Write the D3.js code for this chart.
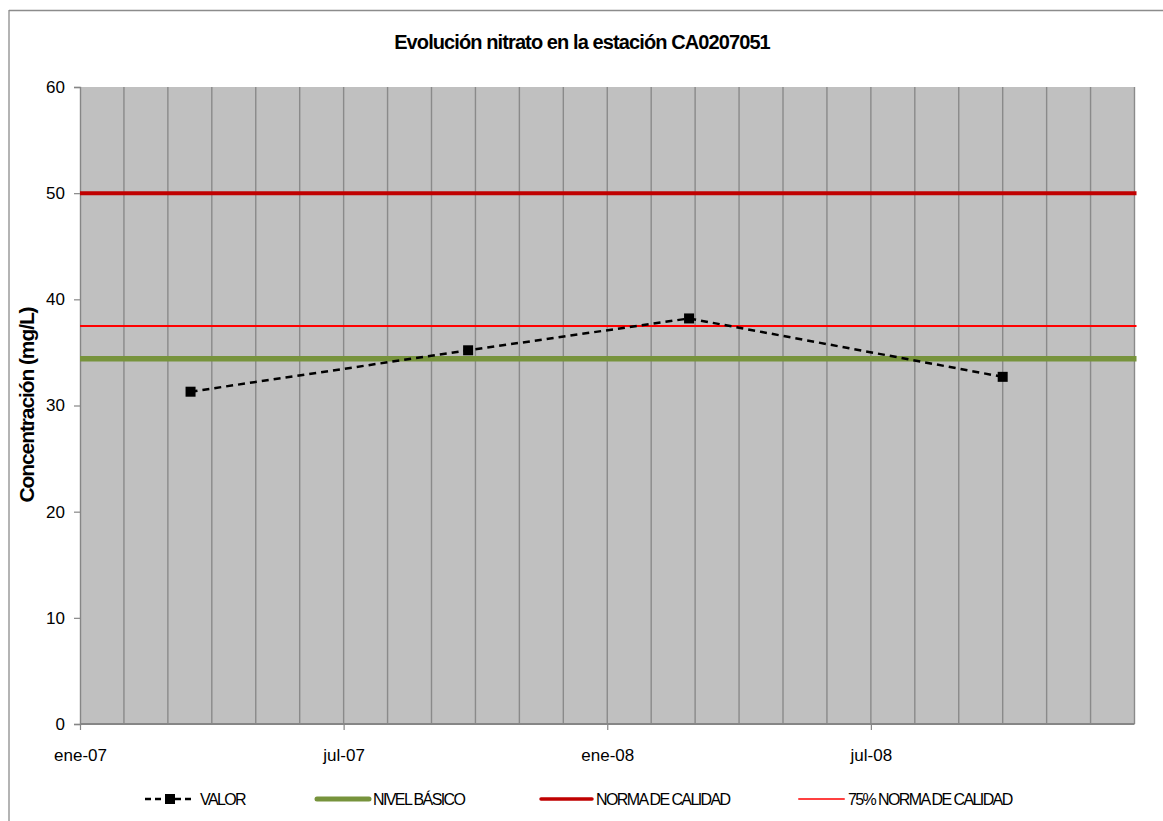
<!DOCTYPE html>
<html><head><meta charset="utf-8">
<script src="https://cdn.jsdelivr.net/npm/d3@7"></script>
<style>
body{margin:0;background:#fff;}
text{font-family:"Liberation Sans",Arial,sans-serif;}
</style></head>
<body><svg id="c" width="1163" height="821"></svg>
<script>
// Data
const sampleDates = ["2007-03-17", "2007-09-26", "2008-02-26", "2008-10-01"];
const valores = [31.3, 35.2, 38.2, 32.7];
const nivelBasico = 34.4;
const normaCalidad = 50;
const norma75 = 37.5;
const xTickLabels = ["ene-07", "jul-07", "ene-08", "jul-08"];
const xTickMonths = [0, 6, 12, 18];
const yTicks = [0, 10, 20, 30, 40, 50, 60];
const legendLabels = ["VALOR", "NIVEL BÁSICO", "NORMA DE CALIDAD", "75% NORMA DE CALIDAD"];

// month index (from Jan 2007) with fractional day position
function monthIndex(s){
  const d = new Date(s + "T00:00:00");
  const y = d.getFullYear(), m = d.getMonth(), day = d.getDate();
  const dim = new Date(y, m+1, 0).getDate();
  return (y-2007)*12 + m + (day-1)/dim;
}

const svg = d3.select("#c");
const L=80, R=1134.5, T=87, B=724;
const x = d3.scaleLinear().domain([0,24]).range([L,R]);
const y = d3.scaleLinear().domain([0,60]).range([B,T]);

// chart border (top & left)
svg.append("line").attr("x1",9).attr("x2",1163).attr("y1",10.5).attr("y2",10.5).attr("stroke","#8c8c8c").attr("stroke-width",1.3);
svg.append("line").attr("x1",9).attr("x2",9).attr("y1",10).attr("y2",821).attr("stroke","#8c8c8c").attr("stroke-width",1.3);

// plot background
svg.append("rect").attr("x",L).attr("y",T).attr("width",R-L).attr("height",B-T).attr("fill","#c0c0c0");

// vertical gridlines per month
svg.append("g").selectAll("line").data(d3.range(1,25)).join("line")
  .attr("x1",d=>x(d)).attr("x2",d=>x(d)).attr("y1",T).attr("y2",B)
  .attr("stroke","#8a8a8a").attr("stroke-width",1.4);

// y axis
const yAxis = d3.axisLeft(y).tickValues(yTicks).tickSize(6).tickPadding(9);
const gy = svg.append("g").attr("transform",`translate(${L},0)`).call(yAxis);
gy.select(".domain").attr("stroke","#868686").attr("stroke-width",1.4);
gy.selectAll(".tick line").attr("stroke","#868686").attr("stroke-width",1.2);
gy.selectAll(".tick text").attr("font-size",17).attr("fill","#000").attr("font-family","Liberation Sans, Arial, sans-serif");

// x axis
const xAxis = d3.axisBottom(x).tickValues(xTickMonths).tickFormat((d,i)=>xTickLabels[i]).tickSize(6).tickPadding(19);
const gx = svg.append("g").attr("transform",`translate(0,${B})`).call(xAxis);
gx.select(".domain").attr("stroke","#868686").attr("stroke-width",2.2).attr("d",`M${L},0H${R}`);
gx.selectAll(".tick line").attr("stroke","#868686").attr("stroke-width",1.2);
gx.selectAll(".tick text").attr("font-size",17).attr("fill","#000").attr("font-family","Liberation Sans, Arial, sans-serif");

// reference lines
const refs = [
  {v:nivelBasico, c:"#77933c", w:5.5},
  {v:normaCalidad, c:"#c00000", w:4},
  {v:norma75, c:"#ff0000", w:2}
];
svg.append("g").selectAll("line").data(refs).join("line")
  .attr("x1",L).attr("x2",R+2).attr("y1",d=>y(d.v)).attr("y2",d=>y(d.v))
  .attr("stroke",d=>d.c).attr("stroke-width",d=>d.w);

// series
const pts = sampleDates.map((d,i)=>({m:monthIndex(d), v:valores[i]}));
svg.append("path").datum(pts)
  .attr("d", d3.line().x(d=>x(d.m)).y(d=>y(d.v)))
  .attr("fill","none").attr("stroke","#000").attr("stroke-width",2.5).attr("stroke-dasharray","7,5");
svg.append("g").selectAll("rect").data(pts).join("rect")
  .attr("x",d=>x(d.m)-5).attr("y",d=>y(d.v)-5).attr("width",10).attr("height",10).attr("fill","#000");

// title
svg.append("text").attr("x",582).attr("y",49).attr("text-anchor","middle")
  .attr("font-size",20).attr("font-weight","bold").attr("letter-spacing","-0.9px")
  .text("Evolución nitrato en la estación CA0207051");

// y label
svg.append("text").attr("transform","translate(34,405) rotate(-90)").attr("text-anchor","middle")
  .attr("font-size",21).attr("font-weight","bold").attr("letter-spacing","-1.1px")
  .text("Concentración (mg/L)");

// legend
const ly = 799;
const lg = svg.append("g");
// VALOR
lg.append("line").attr("x1",145).attr("x2",195).attr("y1",ly).attr("y2",ly).attr("stroke","#000").attr("stroke-width",2.5).attr("stroke-dasharray","6,4");
lg.append("rect").attr("x",165).attr("y",ly-5).attr("width",10).attr("height",10).attr("fill","#000");
const legItems = [
  {x1:317,x2:369,c:"#77933c",w:5,tx:373},
  {x1:541,x2:592,c:"#c00000",w:3.5,tx:596},
  {x1:799,x2:844,c:"#ff4040",w:2,tx:848}
];
lg.selectAll(".ll").data(legItems).join("line").attr("class","ll")
  .attr("x1",d=>d.x1).attr("x2",d=>d.x2).attr("y1",ly).attr("y2",ly)
  .attr("stroke",d=>d.c).attr("stroke-width",d=>d.w).attr("stroke-linecap","round");
const txs = [200,373,596,848];
lg.selectAll("text").data(legendLabels).join("text")
  .attr("x",(d,i)=>txs[i]).attr("y",ly+6).attr("font-size",16).attr("letter-spacing","-1.6px")
  .text(d=>d);
</script></body></html>
